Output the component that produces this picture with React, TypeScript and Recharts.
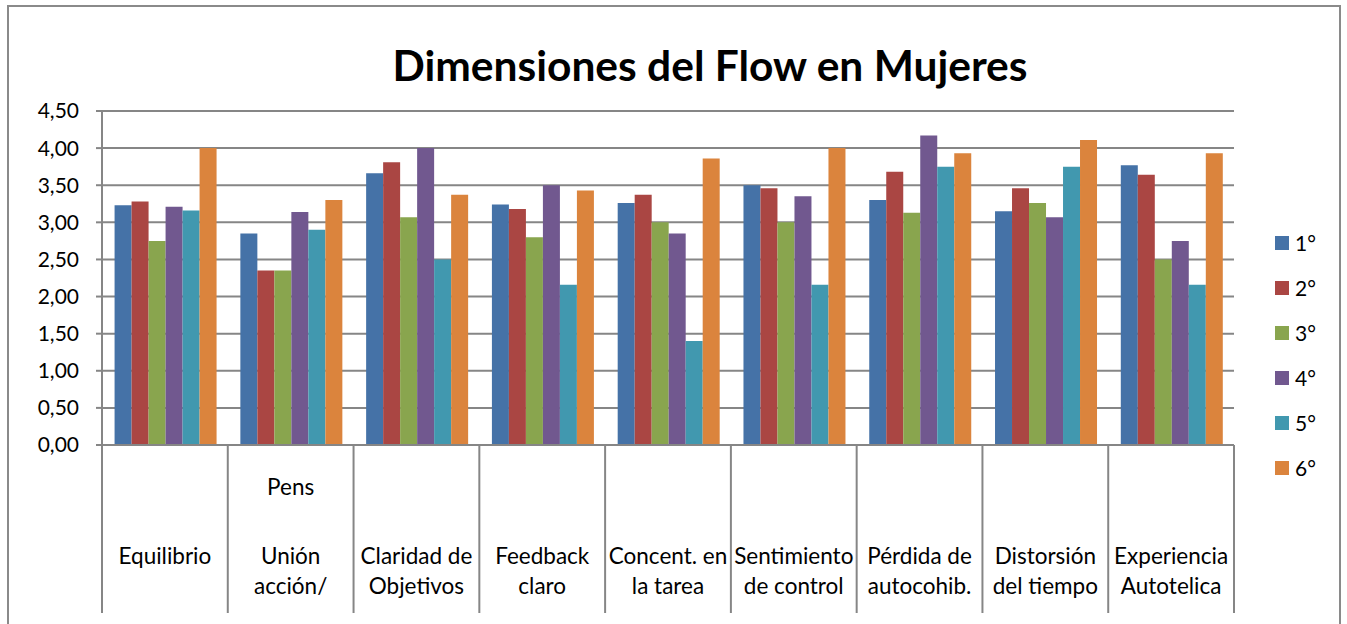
import React from "react";
import { BarChart, Bar, XAxis, YAxis, CartesianGrid } from "recharts";

const categories = [
  "Equilibrio",
  "Unión acción/ Pens",
  "Claridad de Objetivos",
  "Feedback claro",
  "Concent. en la tarea",
  "Sentimiento de control",
  "Pérdida de autocohib.",
  "Distorsión del tiempo",
  "Experiencia Autotelica",
];

const categoryLines: string[][] = [
  ["Equilibrio"],
  ["Pens", "Unión", "acción/"],
  ["Claridad de", "Objetivos"],
  ["Feedback", "claro"],
  ["Concent. en", "la tarea"],
  ["Sentimiento", "de control"],
  ["Pérdida de", "autocohib."],
  ["Distorsión", "del tiempo"],
  ["Experiencia", "Autotelica"],
];

const seriesNames = ["1°", "2°", "3°", "4°", "5°", "6°"];

const grade1 = [3.23, 2.85, 3.66, 3.24, 3.26, 3.5, 3.3, 3.15, 3.77];
const grade2 = [3.28, 2.35, 3.81, 3.18, 3.37, 3.46, 3.68, 3.46, 3.64];
const grade3 = [2.75, 2.35, 3.07, 2.8, 3.0, 3.0, 3.13, 3.26, 2.5];
const grade4 = [3.21, 3.14, 4.0, 3.5, 2.85, 3.35, 4.17, 3.07, 2.75];
const grade5 = [3.16, 2.9, 2.5, 2.16, 1.4, 2.16, 3.75, 3.75, 2.16];
const grade6 = [4.0, 3.3, 3.37, 3.43, 3.86, 4.0, 3.93, 4.11, 3.93];

const yTicks = [0, 0.5, 1, 1.5, 2, 2.5, 3, 3.5, 4, 4.5];

const seriesValues = [grade1, grade2, grade3, grade4, grade5, grade6];
const colors = ["#4572A7", "#AA4643", "#89A54E", "#71588F", "#4198AF", "#DB843D"];
const keys = ["g1", "g2", "g3", "g4", "g5", "g6"];

const data = categories.map((c, i) => {
  const row: Record<string, any> = { name: c, idx: i };
  keys.forEach((k, s) => {
    row[k] = seriesValues[s][i];
  });
  return row;
});

const W = 1347;
const H = 624;
const PLOT_LEFT = 102;
const PLOT_RIGHT = 1234;
const PLOT_TOP = 111;
const PLOT_BOTTOM = 445;
const BAND = (PLOT_RIGHT - PLOT_LEFT) / categories.length;
const GRID = "#868686";
const FONT = "Lato, 'Noto Sans', sans-serif";

const CategoryTick = (props: any) => {
  const { x, y, payload } = props;
  const idx = payload.index;
  const lines = categoryLines[idx] || [];
  const left = x - BAND / 2;
  const right = x + BAND / 2;
  const n = lines.length;
  const rows: number[] = [];
  for (let i = 0; i < n; i++) {
    const fromEnd = n - 1 - i;
    if (n === 1) rows.push(y + 110);
    else if (fromEnd === 0) rows.push(y + 140);
    else if (fromEnd === 1) rows.push(y + 110);
    else rows.push(y + 41);
  }
  return (
    <g>
      <line x1={left} x2={left} y1={y} y2={y + 168} stroke={GRID} strokeWidth={2} />
      {idx === categories.length - 1 && (
        <line x1={right} x2={right} y1={y} y2={y + 168} stroke={GRID} strokeWidth={2} />
      )}
      {lines.map((t, i) => (
        <text
          key={i}
          x={x}
          y={rows[i]}
          textAnchor="middle"
          dominantBaseline="central"
          fontFamily={FONT}
          fontSize={22.5}
          fill="#000"
        >
          {t}
        </text>
      ))}
    </g>
  );
};

export default function App() {
  return (
    <div style={{ position: "absolute", left: 0, top: 0, width: W, height: H, overflow: "hidden", background: "#fff" }}>
      <div
        style={{
          position: "absolute",
          left: 7,
          top: 5,
          width: 1334,
          height: 700,
          border: "2px solid #8a8a8a",
          boxSizing: "border-box",
        }}
      />
      <div
        style={{
          position: "absolute",
          left: 0,
          top: 44,
          width: 1420,
          textAlign: "center",
          fontFamily: FONT,
          fontWeight: 700,
          fontSize: 42.5,
          lineHeight: "42px",
          color: "#000",
        }}
      >
        Dimensiones del Flow en Mujeres
      </div>
      <div style={{ position: "absolute", left: 0, top: 0 }}>
        <BarChart
          width={W}
          height={H}
          data={data}
          margin={{ top: PLOT_TOP, right: W - PLOT_RIGHT, bottom: 0, left: 0 }}
          barCategoryGap="10%"
          barGap={0}
        >
          <CartesianGrid vertical={false} stroke={GRID} strokeWidth={2} />
          <XAxis
            dataKey="name"
            height={H - PLOT_BOTTOM}
            axisLine={{ stroke: GRID, strokeWidth: 2 }}
            tickLine={false}
            tickSize={0}
            tickMargin={0}
            interval={0}
            tick={<CategoryTick />}
          />
          <YAxis
            width={PLOT_LEFT}
            domain={[0, 4.5]}
            ticks={yTicks}
            interval={0}
            axisLine={{ stroke: GRID, strokeWidth: 2 }}
            tickLine={{ stroke: GRID, strokeWidth: 2 }}
            tickSize={6}
            tickMargin={17}
            tickFormatter={(v: number) => v.toFixed(2).replace(".", ",")}
            tick={{ fontFamily: FONT, fontSize: 21, fill: "#000" }}
          />
          {keys.map((k, i) => (
            <Bar key={k} dataKey={k} name={seriesNames[i]} fill={colors[i]} isAnimationActive={false} />
          ))}
        </BarChart>
      </div>
      <div style={{ position: "absolute", left: 1275, top: 220, display: "flex", flexDirection: "column" }}>
        {seriesNames.map((n, i) => (
          <div
            key={n}
            style={{ display: "flex", alignItems: "center", height: 45, fontFamily: FONT, fontSize: 21, color: "#000" }}
          >
            <span style={{ display: "inline-block", width: 14, height: 14, background: colors[i], marginRight: 6 }} />
            <span>{n}</span>
          </div>
        ))}
      </div>
    </div>
  );
}
